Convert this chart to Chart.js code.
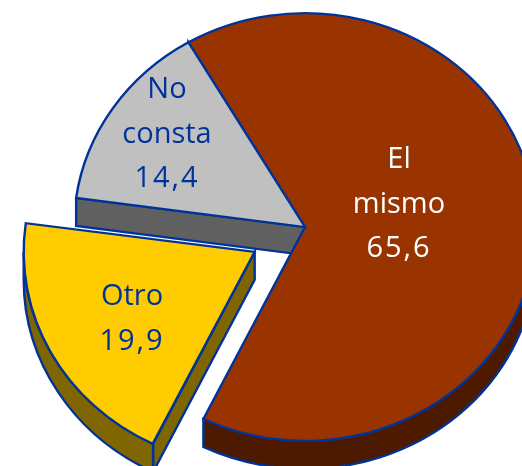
<!DOCTYPE html>
<html>
<head>
<meta charset="utf-8">
<style>html,body{margin:0;padding:0;background:#fff;overflow:hidden}canvas{display:block}</style>
<script src="https://cdn.jsdelivr.net/npm/chart.js@4"></script>
</head>
<body>
<canvas id="c" width="522" height="466"></canvas>
<script>
const categories = ["El mismo", "Otro", "No consta"];
const values = [65.6, 19.9, 14.4];
const labelLines = [["El", "mismo", "65,6"], ["Otro", "19,9"], ["No", "consta", "14,4"]];
const topColors = ["#993300", "#FFCC00", "#C0C0C0"];
const wallColors = ["#4D1A00", "#806600", "#606060"];
const textColors = ["#FFFFFF", "#003399", "#003399"];
const explode = [0, 228, 0];

const OUTLINE = "#003399";
const CENTER_X = 305, CENTER_Y = 227, TILT = 0.926, DEPTH = 28, STROKE = 2.4;
const labelAnchors = [[399, 160], [132, 297], [167, 90]];
const LINE_GAP = 44.5;

function apexOf(el, i) {
  const off = (explode[i] || 0) / 4, mid = (el.startAngle + el.endAngle) / 2;
  return { x: el.x + Math.cos(mid) * off, y: el.y + Math.sin(mid) * off, off };
}

const pie3d = {
  id: "pie3d",
  beforeDatasetDraw() { return false; },
  afterDatasetsDraw(chart) {
    const ctx = chart.ctx, arcs = chart.getDatasetMeta(0).data;
    ctx.save();
    const a0 = arcs[0];
    ctx.translate(CENTER_X, CENTER_Y);
    ctx.scale(1, TILT);
    ctx.translate(-a0.x, -a0.y);
    const D = DEPTH / TILT;
    arcs.forEach((el, i) => {
      const s = el.startAngle, e = el.endAngle, r = el.outerRadius;
      const { x, y } = apexOf(el, i);
      ctx.fillStyle = wallColors[i];
      ctx.strokeStyle = OUTLINE;
      ctx.lineWidth = STROKE;
      ctx.lineJoin = "miter";
      if (Math.cos(s) < 0) {
        ctx.beginPath();
        ctx.moveTo(x, y);
        ctx.lineTo(x + Math.cos(s) * r, y + Math.sin(s) * r);
        ctx.lineTo(x + Math.cos(s) * r, y + Math.sin(s) * r + D);
        ctx.lineTo(x, y + D);
        ctx.closePath();
        ctx.fill(); ctx.stroke();
      }
      const from = Math.max(s, 0), to = Math.min(e, Math.PI);
      if (to > from) {
        ctx.beginPath();
        ctx.arc(x, y, r, from, to);
        ctx.arc(x, y + D, r, to, from, true);
        ctx.closePath();
        ctx.fill(); ctx.stroke();
      }
    });
    // top faces: the library's arc elements, with the radius growth it adds to offset slices undone
    arcs.forEach((el, i) => {
      const { x, y, off } = apexOf(el, i);
      const c = el.endAngle - el.startAngle;
      const grow = off * (1 - Math.sin(Math.min(Math.PI, c)));
      const f = el.outerRadius / (el.outerRadius + grow);
      ctx.save();
      ctx.translate(x, y); ctx.scale(f, f); ctx.translate(-x, -y);
      el.draw(ctx, chart.chartArea);
      ctx.restore();
    });
    ctx.restore();

    ctx.save();
    ctx.textAlign = "center";
    ctx.textBaseline = "middle";
    ctx.font = "500 29px 'Open Sans'";
    labelLines.forEach((lines, i) => {
      ctx.fillStyle = textColors[i];
      lines.forEach((t, j) => {
        ctx.letterSpacing = /\d/.test(t) ? "2px" : "0px";
        ctx.fillText(t, labelAnchors[i][0], labelAnchors[i][1] + j * LINE_GAP);
      });
    });
    ctx.restore();
  }
};

new Chart(document.getElementById("c"), {
  type: "pie",
  data: {
    labels: categories,
    datasets: [{
      data: values,
      backgroundColor: topColors,
      borderColor: OUTLINE,
      borderWidth: STROKE,
      borderJoinStyle: "miter",
      offset: explode,
      hoverOffset: 0,
      clip: false
    }]
  },
  options: {
    responsive: false,
    animation: false,
    radius: 231,
    rotation: -30.3,
    layout: { padding: 0 },
    plugins: { legend: { display: false }, tooltip: { enabled: false }, title: { display: false } }
  },
  plugins: [pie3d]
});
</script>
</body>
</html>
